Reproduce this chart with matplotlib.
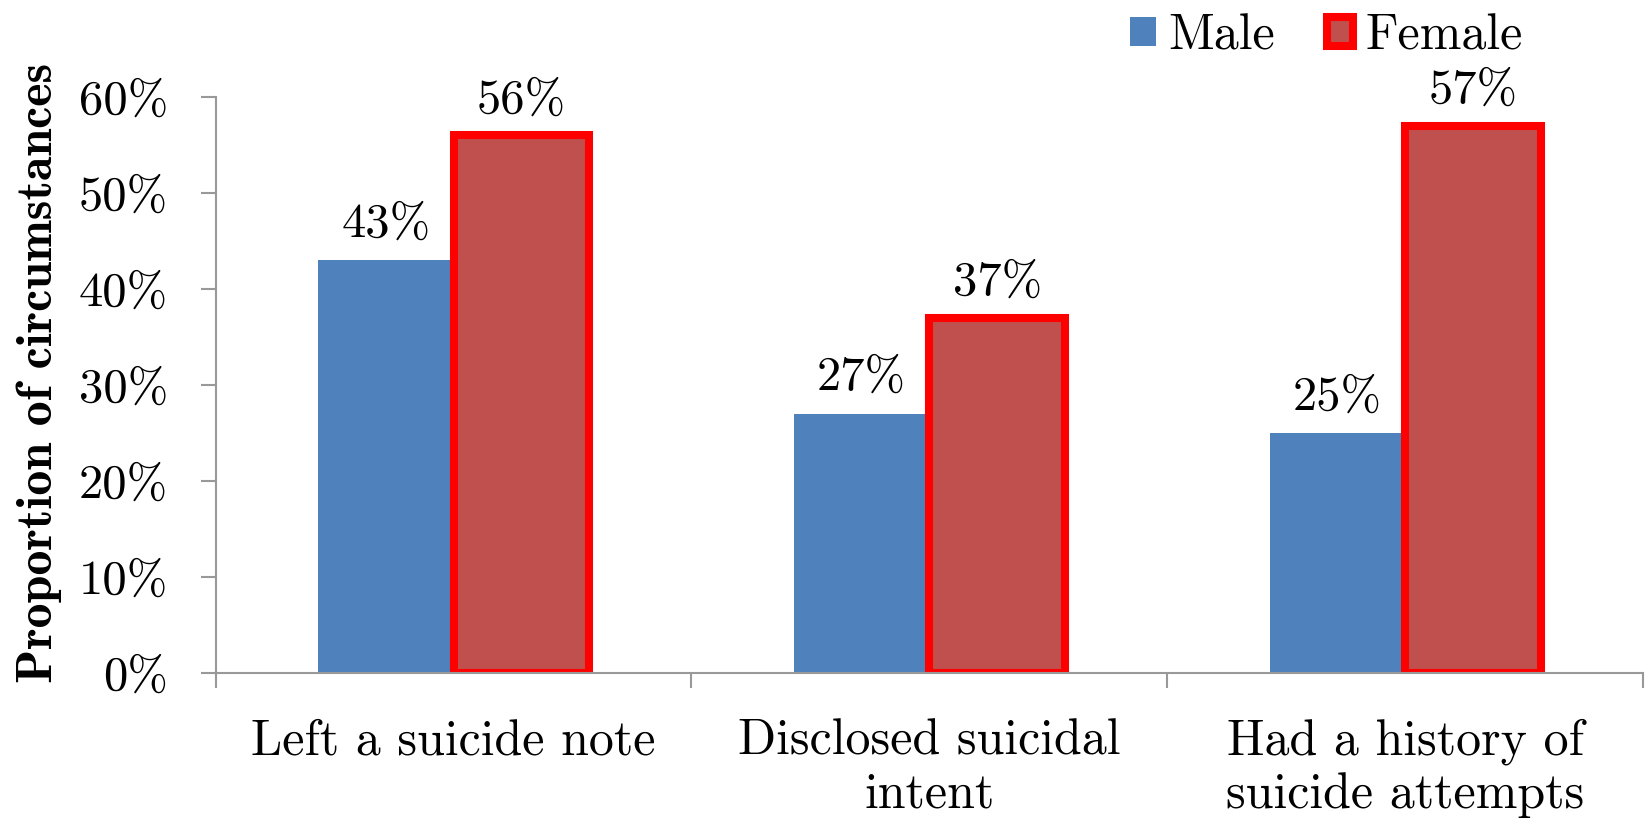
import matplotlib
matplotlib.use("Agg")
import matplotlib.pyplot as plt
import numpy as np
from matplotlib.patches import Patch
from matplotlib.ticker import FuncFormatter, MultipleLocator

categories = ["Left a suicide note", "Disclosed suicidal\nintent",
              "Had a history of\nsuicide attempts"]
male = [43, 27, 25]
female = [56, 37, 57]
series_names = ["Male", "Female"]

MALE_COLOR = "#4F81BD"
FEMALE_COLOR = "#C0504D"
FEMALE_EDGE = "#FF0000"
AXIS_GRAY = "#999999"

FONT = "cmr10"
FONT_BOLD = "cmb10"
FS_NUM = 35
FS_TXT = 36

W, H = 1646, 819
fig = plt.figure(figsize=(W / 100, H / 100), dpi=100)
ax = fig.add_axes([215.7 / W, (H - 673) / H, (1643 - 215.7) / W, (673 - 97) / H])

x = np.arange(len(categories))
w = 0.285
ax.bar(x - w / 2, male, width=w, color=MALE_COLOR, linewidth=0, zorder=2)
ax.bar(x + w / 2, female, width=w, color=FEMALE_COLOR,
       edgecolor=FEMALE_EDGE, linewidth=5.8, zorder=2)

for xi, v in zip(x - w / 2, male):
    ax.annotate(f"{v}%", (xi, v), xytext=(0, 17), textcoords="offset points",
                ha="center", va="baseline", fontsize=FS_NUM, family=FONT)
for xi, v in zip(x + w / 2, female):
    ax.annotate(f"{v}%", (xi, v), xytext=(0, 16.5), textcoords="offset points",
                ha="center", va="baseline", fontsize=FS_NUM, family=FONT)

ax.set_xlim(-0.5, len(categories) - 0.5)
ax.set_ylim(0, 60)
ax.yaxis.set_major_locator(MultipleLocator(10))
ax.yaxis.set_major_formatter(FuncFormatter(lambda v, p: f"{int(v)}%"))

ax.set_xticks(x)
ax.set_xticklabels(categories, fontsize=FS_TXT, family=FONT, linespacing=1.2)
ax.set_xticks(np.arange(-0.5, len(categories)), minor=True)
ax.tick_params(axis="x", which="major", length=0, pad=33)
ax.tick_params(axis="x", which="minor", length=11, width=1.5, color=AXIS_GRAY,
               direction="out")
ax.tick_params(axis="y", which="major", length=11, width=1.5, color=AXIS_GRAY,
               direction="out", pad=23.5)
for lbl in ax.get_yticklabels():
    lbl.set_fontsize(FS_NUM)
    lbl.set_family(FONT)

for s in ("top", "right"):
    ax.spines[s].set_visible(False)
for s in ("left", "bottom"):
    ax.spines[s].set_color(AXIS_GRAY)
    ax.spines[s].set_linewidth(1.5)

fig.text(0.024, 0.545, "Proportion of circumstances", rotation=90,
         ha="center", va="center", fontsize=FS_TXT, family=FONT_BOLD)

handles = [Patch(facecolor=MALE_COLOR, edgecolor="none"),
           Patch(facecolor=FEMALE_COLOR, edgecolor=FEMALE_EDGE, linewidth=5.8)]
fig.legend(handles, series_names, loc="upper left",
           bbox_to_anchor=(1105 / W, 1.014), ncol=2, frameon=False,
           borderpad=0, prop={"family": FONT, "size": FS_TXT},
           handlelength=0.52, handleheight=0.52, handletextpad=0.24,
           columnspacing=1.05)

fig.savefig("out.png", dpi=100)
